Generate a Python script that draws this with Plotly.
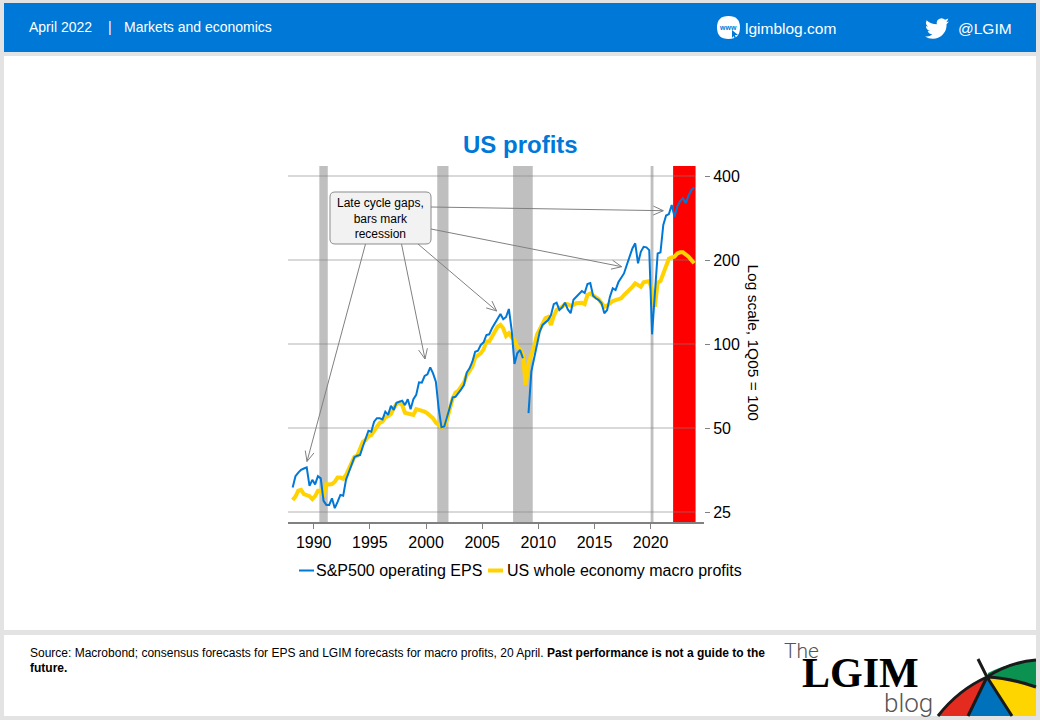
import math
import plotly.graph_objects as go

# quarterly, first point 1988Q1
first_quarter = 1988.125
sp500_eps = [
    30.6, 33.6, 34.6, 35.4, 35.8, 36.1, 31.0, 32.6, 31.4, 33.6, 33.0, 27.4,
    26.5, 26.5, 28.0, 25.8, 27.2, 28.8, 28.6, 32.6, 34.7, 37.3, 39.3, 39.8,
    40.0, 42.9, 45.9, 48.9, 48.5, 52.7, 54.2, 54.2, 53.7, 57.2, 55.7, 60.0,
    58.1, 61.6, 62.1, 62.6, 60.4, 63.4, 58.4, 63.4, 65.7, 72.9, 72.7, 76.8,
    77.9, 82.5, 78.5, 73.3, 58.8, 50.3, 50.6, 54.9, 58.8, 64.4, 64.7, 66.6,
    68.8, 71.3, 79.0, 81.8, 86.4, 93.8, 94.6, 99.2, 101.4, 107.7, 108.3, 113.8,
    118.0, 123.6, 128.0, 122.6, 125.0, 133.5, 112.2, 84.8, 92.6, 95.2, 88.9, None,
    56.5, 79.6, 88.9, 99.2, 110.7, 117.0, 119.6, 121.9, 127.0, 139.0, 140.6, 132.4,
    135.4, 140.6, 133.0, 128.9, 144.0, 147.4, 152.0, 154.8, 152.3, 164.0, 165.4, 148.9,
    145.8, 143.7, 139.9, 128.8, 132.4, 147.8, 158.3, 156.0, 166.4, 171.9, 179.0, 192.0,
    205.6, 220.0, 229.6, 194.6, 214.0, 223.0, 222.0, 217.0, 108.3, 158.0, 211.0, 213.0,
    267.0, 288.6, 292.0, 315.0, 286.0, 311.0, 325.0, 333.0, 320.0, 340.0, 356.0, 364.0,
]
macro_profits = [
    27.6, 28.4, 29.8, 30.0, 29.0, 28.8, 28.5, 27.8, 28.5, 29.8, 29.8, 28.4,
    31.5, 31.4, 31.5, 32.1, 33.2, 33.2, 32.9, 33.9, 35.6, 37.3, 39.4, 39.8,
    42.3, 44.6, 45.3, 46.8, 47.2, 48.9, 50.8, 52.2, 52.7, 54.6, 55.2, 56.2,
    58.8, 61.0, 61.6, 60.4, 56.7, 56.2, 56.2, 55.7, 58.4, 58.1, 57.7, 57.2,
    56.4, 55.2, 54.2, 52.2, 51.2, 50.3, 50.8, 53.7, 58.8, 63.8, 66.9, 68.0,
    70.3, 72.7, 77.4, 80.7, 82.9, 89.6, 91.3, 92.6, 95.7, 102.0, 102.0, 106.0,
    110.7, 115.3, 117.0, 113.8, 106.8, 109.2, 106.0, 103.4, 97.8, 95.7, 91.3, 71.3,
    85.4, 91.3, 97.8, 107.7, 112.9, 118.6, 123.6, 125.0, 117.0, 126.0, 132.4, 134.6,
    136.0, 139.0, 138.8, 137.2, 138.0, 140.0, 140.6, 140.6, 139.0, 149.8, 151.6, 148.6,
    147.0, 144.7, 140.0, 136.0, 137.2, 140.0, 142.6, 143.7, 145.0, 145.8, 149.8, 153.0,
    156.0, 160.3, 165.0, 162.0, 160.3, 166.5, 167.2, 168.0, 156.0, 136.0, 166.0, 168.0,
    179.0, 191.0, 202.0, 204.5, 205.6, 211.0, 213.0, 213.0, 210.0, 205.6, 200.0, 194.6,
]
quarters = [first_quarter + 0.25 * i for i in range(len(sp500_eps))]

x_ticks = [1990, 1995, 2000, 2005, 2010, 2015, 2020]
y_ticks = [25, 50, 100, 200, 400]
recessions = [(1990.5, 1991.25), (2001.0, 2002.0), (2007.75, 2009.5), (2020.0, 2020.25)]
forecast = (2022.0, 2024.0)

BLUE = "#0078D7"
YELLOW = "#FFD200"
GRID = "rgba(128,128,128,0.4)"
FONT = "Liberation Sans"

# plot area in page pixels
L, R, T, B = 288, 704, 166, 522


def px(x):
    return (x - L) / (R - L)


def py(y):
    return (B - y) / (B - T)


def pxpath(s):
    # path written in page pixels -> paper coordinates
    out = []
    is_x = True
    for tok in s.split():
        if tok.isalpha():
            out.append(tok)
        elif is_x:
            out.append(f"{px(float(tok)):.5f},")
            is_x = False
        else:
            out.append(f"{py(float(tok)):.5f}")
            is_x = True
    return " ".join(out).replace(", ", ",")


fig = go.Figure()
fig.add_trace(go.Scatter(x=quarters, y=macro_profits, mode="lines", name="US whole economy macro profits",
                         line=dict(color=YELLOW, width=4), connectgaps=False))
fig.add_trace(go.Scatter(x=quarters, y=sp500_eps, mode="lines", name="S&P500 operating EPS",
                         line=dict(color=BLUE, width=2), connectgaps=False))


def page_shape(path, fill=None, line=None, width=0, layer="below"):
    fig.add_shape(type="path", xref="paper", yref="paper", path=pxpath(path), layer=layer,
                  fillcolor=fill if fill else "rgba(0,0,0,0)",
                  line=dict(color=line if line else "rgba(0,0,0,0)", width=width))


def page_text(x, y, text, size=14, color="black", anchor="left", family=FONT, angle=0, weight=None):
    # annotations pad their text box by about 2px
    if anchor == "left":
        x -= 2
    fig.add_annotation(xref="paper", yref="paper", x=px(x), y=py(y), text=text, showarrow=False,
                       xanchor=anchor, yanchor="middle", textangle=angle,
                       font=dict(family=family, size=size, color=color, weight=weight))


def arrow(x0, y0, x1, y1, head=11, spread=0.42):
    a = math.atan2(y0 - y1, x0 - x1)
    hx0 = x1 + head * math.cos(a - spread)
    hy0 = y1 + head * math.sin(a - spread)
    hx1 = x1 + head * math.cos(a + spread)
    hy1 = y1 + head * math.sin(a + spread)
    page_shape(f"M {x0} {y0} L {x1} {y1} M {hx0} {hy0} L {x1} {y1} L {hx1} {hy1}",
               line="#808080", width=1, layer="above")


# page panels
page_shape("M 4 3 L 1036 3 L 1036 52 L 4 52 Z", fill=BLUE)
page_shape("M 4 56 L 1036 56 L 1036 630 L 4 630 Z", fill="white")
page_shape("M 4 635 L 1036 635 L 1036 716 L 4 716 Z", fill="white")

# recession bars, then grid, then forecast bar over the grid
for start, end in recessions:
    fig.add_shape(type="rect", xref="x", yref="paper", x0=start, x1=end, y0=0, y1=1,
                  fillcolor="#BFBFBF", line_width=0, layer="below")
for tick in y_ticks:
    fig.add_shape(type="line", xref="x", yref="y", x0=1987.71, x1=forecast[1], y0=tick, y1=tick,
                  line=dict(color=GRID, width=1.5), layer="below")
fig.add_shape(type="rect", xref="x", yref="paper", x0=forecast[0], x1=forecast[1], y0=0, y1=1,
              fillcolor="#FF0000", line_width=0, layer="below")

# header
page_text(29, 27, "April 2022", color="white")
page_text(110, 27, "|", color="white", anchor="center")
page_text(124, 27, "Markets and economics", color="white")
page_shape("M 717 27.5 Q 717 16 728.5 16 Q 740 16 740 27.5 Q 740 39 728.5 39 Q 717 39 717 27.5 Z", fill="white")
page_text(727.5, 27, "<b>www</b>", size=7, color=BLUE, anchor="center")
page_shape("M 732 30 L 738 35 L 735 35 L 736 38 L 734.5 38 L 733.5 36 L 732 38 Z", fill=BLUE, layer="above")
page_text(745, 28, "lgimblog.com", size=15.5, color="white")
bird = ("M 23.95 4.57 L 21.13 5.35 Q 22.7 3.8 23.29 1.62 L 20.17 2.81 Q 18.5 1.2 16.4 1.2 Q 13.7 1.4 12.3 3.6 "
        "Q 11.4 5.4 11.78 7.29 Q 5.7 7 1.64 3.16 Q 0.4 5.9 1.4 7.8 Q 2 9 3.16 9.73 L 0.93 9.12 L 0.93 9.18 "
        "Q 1.3 12.9 4.88 14 L 2.67 14.09 Q 4 17.2 7.27 17.5 Q 4.5 19.8 1.17 19.61 L 0 19.54 Q 3.5 21.75 7.56 21.75 "
        "Q 14 21.9 18 17.3 Q 21.8 13 21.55 7.77 L 21.53 7.14 Z")
shifted = []
is_x = True
for tok in bird.split():
    if tok.isalpha():
        shifted.append(tok)
    else:
        shifted.append(str(float(tok) + (925 if is_x else 17)))
        is_x = not is_x
page_shape(" ".join(shifted), fill="white")
page_text(958, 28, "@LGIM", size=15.5, color="white")

# title, axis caption
page_text(520, 144, "<b>US profits</b>", size=24, color=BLUE, anchor="center")
page_text(753.5, 343, "Log scale, 1Q05 = 100", size=15.5, anchor="center", angle=90)

# callout
page_shape("M 335 192 L 426 192 Q 431 192 431 197 L 431 239 Q 431 244 426 244 L 335 244 "
           "Q 330 244 330 239 L 330 197 Q 330 192 335 192 Z", fill="#F2F2F2", line="#8C8C8C", width=1, layer="above")
page_text(380.5, 218, "Late cycle gaps,<br>bars mark<br>recession", size=12, anchor="center")
arrow(365.5, 244, 307, 461.5)
arrow(401.5, 244, 425, 359)
arrow(418, 244, 496.7, 311)
arrow(431, 207, 663.3, 210.7)
arrow(431, 229, 621.7, 266.7)

# legend
page_shape("M 299 570.5 L 314 570.5", line=BLUE, width=2)
page_text(316, 570, "S&amp;P500 operating EPS", size=16)
page_shape("M 488 570.5 L 503 570.5", line=YELLOW, width=4)
page_text(507, 570, "US whole economy macro profits", size=16)

# footer
page_text(30, 653, "Source: Macrobond; consensus forecasts for EPS and LGIM forecasts for macro profits, 20 April. "
                   "<b>Past performance is not a guide to the</b>", size=12)
page_text(30, 668, "<b>future.</b>", size=12)

# logo
page_text(784, 651, "The", size=21, color="#555555", family="Roboto", weight=300)
page_text(802, 673, "<b>LGIM</b>", size=42, color="black", family="Liberation Serif")
page_text(884, 703, "blog", size=26, color="#555555", family="Roboto", weight=300)
page_shape("M 987 677 Q 958 690 938 716 L 968 716 Z", fill="#E32B20")
page_shape("M 987 677 L 968 716 L 1012 716 Z", fill="#0072BC")
page_shape("M 987 677 L 1012 716 L 1036 716 L 1036 687 Q 1010 678 987 677 Z", fill="#FFD500")
page_shape("M 987 677 Q 1010 678 1036 687 L 1036 660 Q 1010 662 988 673 Z", fill="#0B9150")
page_shape("M 938 716 Q 958 690 987 677 Q 1010 662 1036 660", line="#1A1A1A", width=3)
page_shape("M 978 659 L 987 677 L 968 716 M 987 677 L 1012 716 M 987 677 Q 1010 678 1036 687", line="#1A1A1A", width=3)

log_top = math.log10(y_ticks[-1]) + (10 / 84) * math.log10(2)
log_bottom = math.log10(y_ticks[0]) - (10 / 84) * math.log10(2)

fig.update_xaxes(range=[1987.71, 2024.75], tickmode="array", tickvals=x_ticks, ticks="outside", ticklen=5,
                 tickwidth=1, tickcolor="#808080", showgrid=False, zeroline=False, showline=True,
                 linecolor="#808080", linewidth=2, tickfont=dict(family=FONT, size=16, color="black"))
fig.update_yaxes(type="log", range=[log_bottom, log_top], side="right", tickmode="array", tickvals=y_ticks,
                 ticktext=[str(t) for t in y_ticks], ticks="outside", ticklen=5, tickwidth=1, tickcolor="#808080",
                 showgrid=False, zeroline=False, showline=False, tickfont=dict(family=FONT, size=16, color="black"))
fig.update_layout(width=1040, height=720, margin=dict(l=L, r=1040 - R, t=T, b=720 - B, pad=0),
                  paper_bgcolor="#E3E3E3", plot_bgcolor="rgba(0,0,0,0)", showlegend=False,
                  font=dict(family=FONT))

fig.write_html("out.html", config={"displayModeBar": False},
               post_script="document.body.style.margin='0';window.dispatchEvent(new Event('resize'));")
